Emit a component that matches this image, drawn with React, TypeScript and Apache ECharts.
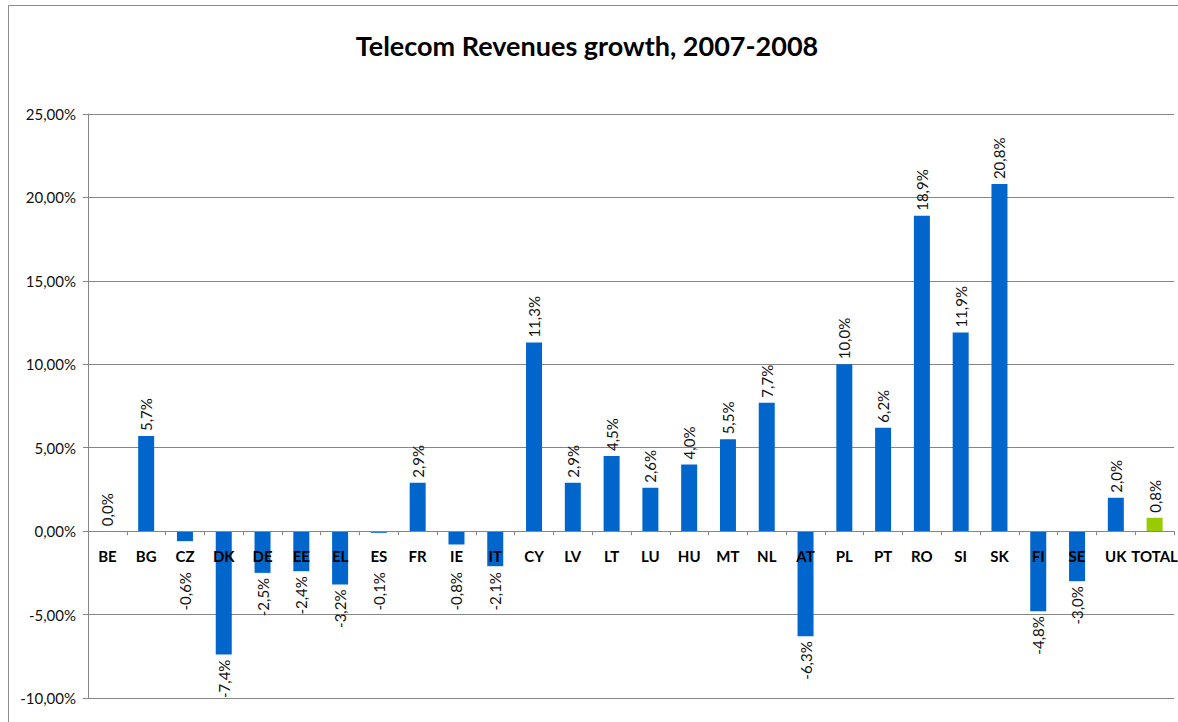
import React, { useEffect, useRef } from "react";
import * as echarts from "echarts";

const categories = ["BE","BG","CZ","DK","DE","EE","EL","ES","FR","IE","IT","CY","LV","LT","LU","HU","MT","NL","AT","PL","PT","RO","SI","SK","FI","SE","UK","TOTAL"];
const growth = [0.0,5.7,-0.6,-7.4,-2.5,-2.4,-3.2,-0.1,2.9,-0.8,-2.1,11.3,2.9,4.5,2.6,4.0,5.5,7.7,-6.3,10.0,6.2,18.9,11.9,20.8,-4.8,-3.0,2.0,0.8];
const yMin = -10;
const yMax = 25;
const yStep = 5;

const FONT = "Lato, 'Open Sans', sans-serif";
const BLUE = "#0066CC";
const GREEN = "#99CC00";

export default function App() {
  const ref = useRef<HTMLDivElement>(null);
  useEffect(() => {
    if (!ref.current) return;
    const chart = echarts.init(ref.current, null, { renderer: "svg" });
    const gridTop = 114;
    const gridBottom = 24;
    const plotH = 722 - gridTop - gridBottom;
    const pxPerUnit = plotH / (yMax - yMin);
    const zeroOffset = -(0 - yMin) * pxPerUnit;
    const minBelow = 41;
    const data = growth.map((v, i) => {
      const isTotal = categories[i] === "TOTAL";
      const neg = v < 0;
      return {
        value: v,
        itemStyle: { color: isTotal ? GREEN : BLUE },
        label: neg
          ? {
              position: "bottom",
              rotate: 90,
              align: "right",
              verticalAlign: "middle",
              distance: Math.max(5, minBelow - Math.abs(v) * pxPerUnit),
            }
          : {
              position: "top",
              rotate: 90,
              align: "left",
              verticalAlign: "middle",
              distance: 5,
            },
      };
    });
    chart.setOption({
      animation: false,
      backgroundColor: "#fff",
      title: {
        text: "Telecom Revenues growth, 2007-2008",
        left: 582,
        top: 27,
        textAlign: "center",
        textStyle: { fontFamily: FONT, fontSize: 27, fontWeight: "bold", color: "#000" },
      },
      graphic: [
        {
          type: "rect",
          shape: { x: 8.5, y: 5.5, width: 1400, height: 1000 },
          style: { fill: "none", stroke: "#8c8c8c", lineWidth: 1 },
          silent: true,
        },
      ],
      grid: {
        left: 88,
        right: 4,
        top: gridTop,
        bottom: gridBottom,
        containLabel: false,
        outerBoundsMode: "none",
      },
      xAxis: {
        type: "category",
        data: categories,
        z: 10,
        offset: zeroOffset,
        axisLine: { onZero: false, lineStyle: { color: "#868686", width: 1 } },
        axisTick: { show: true, length: 4, lineStyle: { color: "#868686" } },
        axisLabel: {
          margin: 17,
          fontFamily: FONT,
          fontSize: 15,
          fontWeight: "bold",
          color: "#000",
          interval: 0,
          hideOverlap: false,
        },
        splitLine: { show: false },
      },
      yAxis: {
        type: "value",
        min: yMin,
        max: yMax,
        interval: yStep,
        axisLine: { show: true, lineStyle: { color: "#868686" } },
        axisTick: { show: true, length: 5, lineStyle: { color: "#868686" } },
        axisLabel: {
          margin: 12,
          fontFamily: FONT,
          fontSize: 15,
          color: "#111",
          formatter: (v: number) => v.toFixed(2).replace(".", ",") + "%",
        },
        splitLine: { show: true, lineStyle: { color: "#868686", width: 1 } },
      },
      series: [
        {
          type: "bar",
          data,
          barWidth: 16,
          label: {
            show: true,
            fontFamily: FONT,
            fontSize: 15,
            color: "#111",
            formatter: (p: any) => p.value.toFixed(1).replace(".", ",") + "%",
          },
        },
      ],
    });
    return () => chart.dispose();
  }, []);
  return (
    <div
      ref={ref}
      style={{ position: "absolute", left: 0, top: 0, width: 1178, height: 722 }}
    />
  );
}
